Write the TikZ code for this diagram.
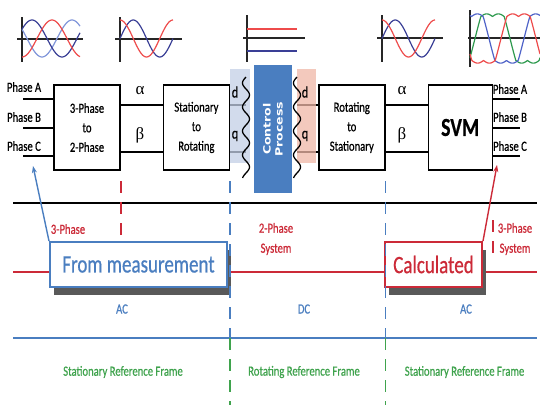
\documentclass[tikz,border=0pt]{standalone}
\usepackage{fontspec}
\setmainfont{Carlito}[FakeStretch=0.76, FakeBold=0.6]
\newfontfamily\ctrlfont{DejaVu Sans}
\newfontfamily\greekfont{Liberation Serif}
\usepackage{tikz}
\usetikzlibrary{arrows.meta,positioning,shadows,calc}
\definecolor{ink}{HTML}{000000}
\definecolor{mblue}{HTML}{4A7EC0}
\definecolor{mred}{HTML}{CC2A38}
\definecolor{mgreen}{HTML}{3FA34D}
\definecolor{wnavy}{HTML}{3A3F96}
\definecolor{wlight}{HTML}{8196DA}
\definecolor{wred}{HTML}{EE4B4B}
\definecolor{wgreen}{HTML}{2E9A4E}
\definecolor{wblue}{HTML}{4F63C8}
\definecolor{shblue}{HTML}{C3CFE6}
\definecolor{shpink}{HTML}{F0B8A8}

\begin{document}
\begin{tikzpicture}[x=1pt,y=-1pt,
  every node/.style={font=\fontsize{14}{19.5}\selectfont, inner sep=0pt},
  block/.style={rectangle, draw=ink, line width=1.4pt, fill=white, minimum width=66pt, minimum height=85pt, align=center},
  ctrlbox/.style={rectangle, fill=mblue, minimum width=38pt, minimum height=128pt},
  sig/.style={line width=2.5pt, draw=ink},
  axis/.style={line width=1.7pt, draw=ink!85},
  wave/.style={line width=1.2pt},
  wavy/.style={line width=1.3pt, draw=ink},
  divider/.style={line width=1.6pt, dash pattern=on 12pt off 9pt},
  rail/.style={line width=1.6pt},
  tag/.style={align=center, font=\fontsize{14}{20}\selectfont},
  greek/.style={font=\greekfont\fontsize{17}{17}\selectfont},
  callout/.style={rectangle, fill=white, line width=2pt, minimum height=45pt, font=\fontsize{25}{25}\selectfont, drop shadow={shadow xshift=4pt, shadow yshift=-8pt, fill=black!65, opacity=1}},
  pointer/.style={-{Stealth[length=7pt,width=5pt]}, line width=1.4pt},
  declare function={svm(\t)=ifthenelse(sin(\t)>0.5,1+0.12*abs(cos(3*\t)),ifthenelse(sin(\t)<-0.5,-1-0.12*abs(cos(3*\t)),2*sin(\t)));}
]
\useasboundingbox (0,0) rectangle (540,405);
\fill[white] (0,0) rectangle (540,405);

% waveforms
\draw[axis] (22,17) -- (22,62);
\draw[axis] (17,39) -- (83,39);
\draw[wave, wlight] plot[domain=22:80, samples=60] (\x, {38.5-18.5*cos(6*(\x-72))});
\draw[wave, wnavy] plot[domain=22:80, samples=60] (\x, {38.5-18.5*cos(6*(\x-32))});
\draw[wave, wred] plot[domain=22:80, samples=60] (\x, {38.5-18.5*cos(6*(\x-52))});

\draw[axis] (120,17) -- (120,62);
\draw[axis] (115,39) -- (182,39);
\draw[wave, wnavy] plot[domain=120:173, samples=60] (\x, {38.5-18.5*sin(6.79*(\x-120))});
\draw[wave, wred] plot[domain=120:173, samples=60] (\x, {38.5-18.5*cos(6.79*(\x-120))});

\draw[axis] (247,15) -- (247,62);
\draw[axis] (243,38) -- (305,38);
\draw[wave, wred, line width=1.6pt] (247,29) -- (297,29);
\draw[wave, wnavy, line width=1.6pt] (247,51) -- (297,51);

\draw[axis] (382,15) -- (382,62);
\draw[axis] (377,38) -- (443,38);
\draw[wave, wnavy] plot[domain=382:435, samples=60] (\x, {38.5-18.5*sin(6.79*(\x-382))});
\draw[wave, wred] plot[domain=382:435, samples=60] (\x, {38.5-18.5*cos(6.79*(\x-382))});

\draw[axis] (470,10) -- (470,67);
\draw[axis] (468,38) -- (540,38);
\draw[wave, wgreen] plot[domain=470:540, samples=140] (\x, {38.5-22*svm(5.143*(\x-475))});
\draw[wave, wblue] plot[domain=470:540, samples=140] (\x, {38.5-22*svm(5.143*(\x-524))});
\draw[wave, wred] plot[domain=470:540, samples=140] (\x, {38.5-22*svm(5.143*(\x-501))});

% blocks
\node[block] (tp) at (87,127.5) {3-Phase\\to\\2-Phase};
\node[block, right=42pt of tp] (sr) {Stationary\\to\\Rotating};
\node[block, right=88pt of sr] (rs) {Rotating\\to\\Stationary};
\node[block, right=42pt of rs, minimum width=64pt, font=\bfseries\fontsize{26}{26}\selectfont] (svm) {SVM};
\node[ctrlbox] (ctrl) at (273,129) {};
\node[rotate=90, yscale=0.8, align=center, text=white, font=\ctrlfont\bfseries\fontsize{12.5}{15}\selectfont] (ctrltxt) at (ctrl.center) {Control\\Process};

\coordinate (ya) at (0,105);
\coordinate (yb) at (0,152);
\coordinate (wl) at (246,0);
\coordinate (wr) at (297,0);

% phase lines
\foreach \n/\y in {A/99,B/128,C/156}{
  \coordinate (in\n) at (23,\y);
  \coordinate (out\n) at (520,\y);
  \draw[sig] (in\n) -- (tp.west |- in\n);
  \draw[sig] (svm.east |- out\n) -- (out\n);
}
\node (lA) at (24,87) {Phase A};
\node (lB) at (24,117) {Phase B};
\node (lC) at (24,146) {Phase C};
\node (rA) at (510,89) {Phase A};
\node (rB) at (510,117) {Phase B};
\node (rC) at (510,146) {Phase C};

\draw[sig] (tp.east |- ya) -- (sr.west |- ya);
\draw[sig] (tp.east |- yb) -- (sr.west |- yb);
\draw[sig] (rs.east |- ya) -- (svm.west |- ya);
\draw[sig] (rs.east |- yb) -- (svm.west |- yb);
\node[greek] (al) at (140,91) {α};
\node[greek] (bl) at (140,135) {β};
\node[greek] (ar) at (402,91) {α};
\node[greek] (br) at (402,135) {β};

\draw[sig] (sr.east |- ya) -- (wl |- ya);
\draw[sig] (sr.east |- yb) -- (wl |- yb);
\draw[sig] (wr |- ya) -- (rs.west |- ya);
\draw[sig] (wr |- yb) -- (rs.west |- yb);

\fill[shblue, opacity=0.75] (230,69) rectangle (250,163);
\fill[shpink, opacity=0.75] (297,69) rectangle (316,163);
\draw[wavy] plot[domain=77:178, samples=100] ({246-3.5*sin(15*(\x-77))}, \x);
\draw[wavy] plot[domain=77:178, samples=100] ({297-3.5*sin(15*(\x-77))}, \x);
\node[font=\fontsize{16}{16}\selectfont] (dl) at (235,92) {d};
\node[font=\fontsize{16}{16}\selectfont] (ql) at (235,136) {q};
\node[font=\fontsize{16}{16}\selectfont] (dr) at (305,92) {d};
\node[font=\fontsize{16}{16}\selectfont] (qr) at (305,136) {q};

% rails
\draw[rail, ink] (13,203) -- (537,203);
\draw[rail, mred] (13,272) -- (537,272);
\draw[rail, mblue] (13,338) -- (537,338);

% callouts
\node[callout, draw=mblue, text=mblue, minimum width=177pt] (fm) at (138.5,264.5) {From measurement};
\node[callout, draw=mred, text=mred, minimum width=97pt] (calc) at (433.5,264.5) {Calculated};

% dividers
\coordinate (d0) at (0,181);
\coordinate (d1) at (0,338);
\coordinate (d2) at (0,405);
\draw[divider, mred] (tp.east |- d0) -- (tp.east |- 0,237);
\draw[divider, mblue] (sr.east |- d0) -- (sr.east |- d1);
\draw[divider, mgreen] (sr.east |- d1) -- (sr.east |- d2);
\draw[divider, mblue] (rs.east |- d0) -- (rs.east |- d1);
\draw[divider, mgreen] (rs.east |- d1) -- (rs.east |- d2);
\draw[divider, mred] (svm.east |- 0,220) -- (svm.east |- 0,257);

% pointers
\coordinate (pa) at (33,166);
\coordinate (pc) at (497,165);
\draw[pointer, mblue] (fm.north west) -- (pa);
\draw[pointer, mred] (calc.north east) -- (pc);

% labels
\node[tag, text=mred] (t3l) at (68,229) {3-Phase};
\node[tag, text=mred] (t2) at (276,239) {2-Phase\\System};
\node[tag, text=mred] (t3r) at (515,239) {3-Phase\\System};
\node[text=mblue] (acl) at (122,309) {AC};
\node[text=mblue] (dc) at (304,309) {DC};
\node[text=mblue] (acr) at (466,309) {AC};
\node[text=mgreen] (srl) at (123,372) {Stationary Reference Frame};
\node[text=mgreen] (rrf) at (304,372) {Rotating Reference Frame};
\node[text=mgreen] (srr) at (464.5,372) {Stationary Reference Frame};
\end{tikzpicture}
\end{document}
